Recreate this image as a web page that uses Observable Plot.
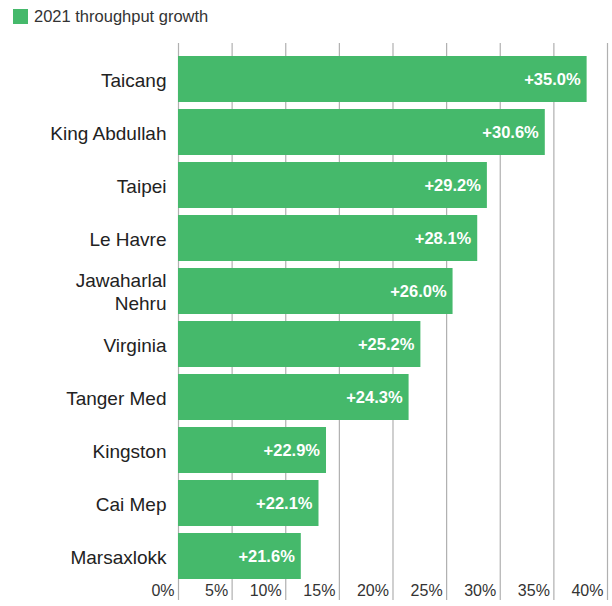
<!DOCTYPE html>
<html>
<head>
<meta charset="utf-8">
<script src="https://cdn.jsdelivr.net/npm/d3@7"></script>
<script src="https://cdn.jsdelivr.net/npm/@observablehq/plot@0.6"></script>
<style>
  html, body { margin: 0; padding: 0; background: #fff; }
  body { width: 612px; height: 606px; overflow: hidden; font-family: "Liberation Sans", Arial, sans-serif; }
  #legend { position: relative; height: 34px; }
  #legend .sw { position: absolute; left: 13px; top: 9px; width: 15px; height: 15px; background: #45b96b; }
  #legend .lbl { position: absolute; left: 34px; top: 6px; font-size: 16.5px; line-height: 20px; color: #333; }
  svg { display: block; }
</style>
</head>
<body>
<div id="legend"><span class="sw"></span><span class="lbl">2021 throughput growth</span></div>
<div id="chart"></div>
<script>
// Port names (top to bottom)
const ports = ["Taicang", "King Abdullah", "Taipei", "Le Havre", "Jawaharlal Nehru", "Virginia", "Tanger Med", "Kingston", "Cai Mep", "Marsaxlokk"];
// Growth values printed on the bars (%)
const growth = [35.0, 30.6, 29.2, 28.1, 26.0, 25.2, 24.3, 22.9, 22.1, 21.6];
// Bar lengths as drawn in the reference
const barLength = [38.1, 34.2, 28.8, 27.9, 25.6, 22.6, 21.5, 13.8, 13.1, 11.45];
// Axis ticks (%)
const xTicks = [0, 5, 10, 15, 20, 25, 30, 35, 40];

const green = "#45b96b";
const data = ports.map((p, i) => ({port: p, growth: growth[i], len: barLength[i]}));

const chart = Plot.plot({
  width: 612,
  height: 572,
  marginTop: 9,
  marginBottom: 6,
  marginLeft: 178,
  marginRight: 5,
  style: {fontFamily: "'Liberation Sans', Arial, sans-serif", background: "#fff"},
  x: {domain: [0, 40], axis: null, label: null},
  y: {type: "band", domain: ports, range: [18.3, 549], paddingInner: 0.14, paddingOuter: 0.07, axis: null, label: null},
  marks: [
    Plot.ruleX(xTicks, {stroke: "#b0b0b0", strokeWidth: 1.2}),
    Plot.barX(data, {x: "len", y: "port", fill: green}),
    Plot.text(data, {
      x: "len", y: "port",
      text: d => "+" + d.growth.toFixed(1) + "%",
      textAnchor: "end", dx: -6.5,
      fill: "#fff", fontWeight: "bold", fontSize: 16.5
    }),
    Plot.axisY({
      label: null,
      tickSize: 0, tickPadding: 12, fontSize: 19, lineHeight: 1.2, fill: "#222",
      tickFormat: d => d.length > 14 ? d.replace(" ", "\n") : d
    }),
    Plot.text(xTicks, {
      x: d => d, frameAnchor: "bottom",
      text: d => d + "%",
      textAnchor: "end", dx: -4, dy: -5,
      fill: "#333", fontSize: 16
    })
  ]
});
document.getElementById("chart").appendChild(chart);
</script>
</body>
</html>
